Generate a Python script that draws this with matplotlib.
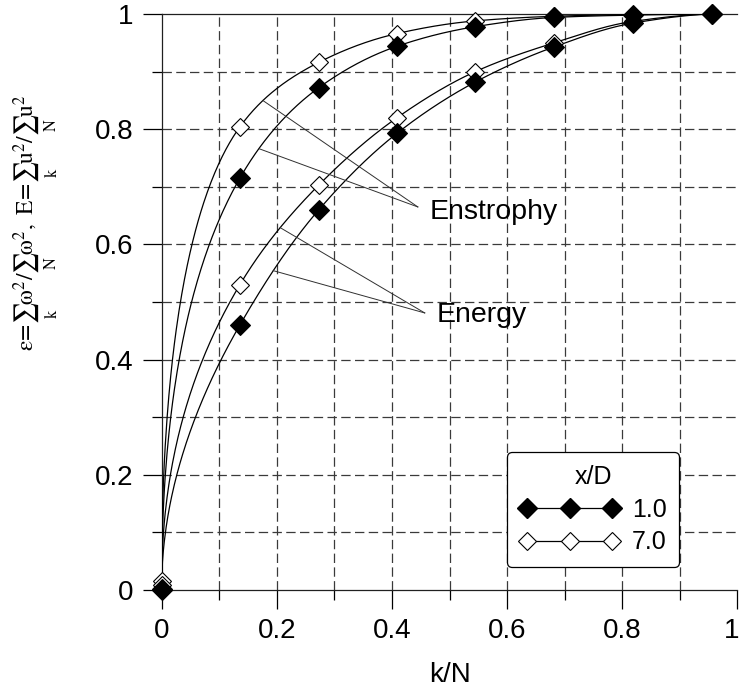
import numpy as np
import matplotlib
matplotlib.use("Agg")
import matplotlib.pyplot as plt
import matplotlib.transforms as mtransforms
from matplotlib.ticker import MultipleLocator, FixedLocator

plt.rcParams["font.family"] = ["Liberation Sans", "DejaVu Sans"]
plt.rcParams["mathtext.fontset"] = "stix"

# Cumulative fraction of enstrophy / energy contained in the first k of N modes
k_over_n = [0.0, 0.136, 0.273, 0.409, 0.545, 0.682, 0.818, 0.955]
enstrophy_xd1 = [0.002, 0.715, 0.872, 0.944, 0.978, 0.994, 0.998, 1.0]
enstrophy_xd7 = [0.015, 0.804, 0.916, 0.966, 0.988, 0.996, 0.999, 1.0]
energy_xd1 = [0.0, 0.460, 0.660, 0.793, 0.882, 0.943, 0.984, 1.0]
energy_xd7 = [0.008, 0.530, 0.703, 0.820, 0.900, 0.950, 0.987, 1.0]

legend_title = "x/D"
legend_labels = ["1.0", "7.0"]
tick_values = [0, 0.2, 0.4, 0.6, 0.8, 1]
tick_labels = ["0", "0.2", "0.4", "0.6", "0.8", "1"]


def pchip(x, y, xq):
    """Monotone piecewise-cubic Hermite interpolation (Fritsch-Carlson)."""
    x = np.asarray(x, float)
    y = np.asarray(y, float)
    h = np.diff(x)
    delta = np.diff(y) / h
    n = len(x)
    d = np.zeros(n)
    for i in range(1, n - 1):
        if delta[i - 1] * delta[i] > 0:
            w1 = 2 * h[i] + h[i - 1]
            w2 = h[i] + 2 * h[i - 1]
            d[i] = (w1 + w2) / (w1 / delta[i - 1] + w2 / delta[i])

    def end_slope(h0, h1, d0, d1):
        s = ((2 * h0 + h1) * d0 - h0 * d1) / (h0 + h1)
        if np.sign(s) != np.sign(d0):
            s = 0.0
        elif np.sign(d0) != np.sign(d1) and abs(s) > abs(3 * d0):
            s = 3 * d0
        return s

    d[0] = end_slope(h[0], h[1], delta[0], delta[1])
    d[-1] = end_slope(h[-1], h[-2], delta[-1], delta[-2])
    xq = np.asarray(xq, float)
    idx = np.clip(np.searchsorted(x, xq) - 1, 0, n - 2)
    t = (xq - x[idx]) / h[idx]
    h00 = 2 * t**3 - 3 * t**2 + 1
    h10 = t**3 - 2 * t**2 + t
    h01 = -2 * t**3 + 3 * t**2
    h11 = t**3 - t**2
    return (h00 * y[idx] + h10 * h[idx] * d[idx]
            + h01 * y[idx + 1] + h11 * h[idx] * d[idx + 1])


def smooth_curve(xs, ys, xq):
    # interpolate in sqrt(k/N) so the steep rise near the origin stays smooth
    return pchip(np.sqrt(xs), ys, np.sqrt(xq))


fig = plt.figure(figsize=(7.42, 6.88), dpi=100)
ax = fig.add_axes([0.2177, 0.1424, 0.7762, 0.8373])
ax.set_xlim(0, 1)
ax.set_ylim(0, 1)

grid_kw = dict(color="#3a3a3a", lw=0.9, dashes=(7.5, 3.5), zorder=1)
for v in np.arange(1, 10) / 10:
    ax.axvline(v, **grid_kw)
    ax.axhline(v, **grid_kw)

xq = np.linspace(0, k_over_n[-1], 600)
curve_kw = dict(color="black", lw=0.9, zorder=3)
series = [enstrophy_xd7, enstrophy_xd1, energy_xd7, energy_xd1]
for ys in series:
    ax.plot(xq, smooth_curve(k_over_n, ys, xq), **curve_kw)

open_kw = dict(ls="none", marker="D", ms=9.5, mfc="white", mec="black",
               mew=0.8, zorder=4, clip_on=False)
fill_kw = dict(ls="none", marker="D", ms=10, mfc="black", mec="black",
               mew=0.8, zorder=5, clip_on=False)
ax.plot(k_over_n, enstrophy_xd7, **open_kw)
ax.plot(k_over_n, energy_xd7, **open_kw)
ax.plot(k_over_n, enstrophy_xd1, **fill_kw)
ax.plot(k_over_n, energy_xd1, **fill_kw)

# leader lines from the labels to the curves
lead_kw = dict(color="#303030", lw=0.7, zorder=3)
for ys, xc in [(enstrophy_xd7, 0.176), (enstrophy_xd1, 0.169)]:
    yc = float(smooth_curve(k_over_n, ys, np.array([xc]))[0])
    ax.plot([0.445, xc], [0.665, yc], **lead_kw)
for ys, xc in [(energy_xd7, 0.206), (energy_xd1, 0.194)]:
    yc = float(smooth_curve(k_over_n, ys, np.array([xc]))[0])
    ax.plot([0.457, xc], [0.481, yc], **lead_kw)
ax.text(0.466, 0.656, "Enstrophy", fontsize=20.5, ha="left", va="center", zorder=6)
ax.text(0.478, 0.477, "Energy", fontsize=20.5, ha="left", va="center", zorder=6)

# legend
h1, = ax.plot([], [], color="black", lw=0.9, marker="D", ms=10, mfc="black", mec="black")
h7, = ax.plot([], [], color="black", lw=0.9, marker="D", ms=9.5, mfc="white", mec="black", mew=0.8)
leg = ax.legend([h1, h7], legend_labels, title=legend_title, loc="lower left",
                bbox_to_anchor=(0.6, 0.04), borderaxespad=0, numpoints=3,
                handlelength=4.0, fontsize=18, title_fontsize=18,
                frameon=True, fancybox=True, framealpha=1, edgecolor="black",
                labelspacing=0.35, handletextpad=0.5, borderpad=0.5)
leg.get_frame().set_linewidth(0.9)
leg.set_zorder(10)

# axes styling
ax.spines["right"].set_visible(False)
for s in ["left", "bottom", "top"]:
    ax.spines[s].set_linewidth(0.9)
    ax.spines[s].set_color("#202020")
ax.xaxis.set_major_locator(FixedLocator(tick_values))
ax.yaxis.set_major_locator(FixedLocator(tick_values))
ax.set_xticklabels(tick_labels)
ax.set_yticklabels(tick_labels)
ax.xaxis.set_minor_locator(MultipleLocator(0.1))
ax.yaxis.set_minor_locator(MultipleLocator(0.1))
ax.tick_params(which="major", direction="out", length=14, width=0.9,
               labelsize=20, pad=6)
ax.tick_params(which="minor", direction="out", length=7, width=0.9)
ax.tick_params(top=False, right=False, which="both")

# nudge the last x tick label so it stays inside the figure edge
last = ax.get_xticklabels()[-1]
last.set_transform(last.get_transform()
                   + mtransforms.ScaledTranslation(-4 / 72, 0, fig.dpi_scale_trans))

ax.set_xlabel("k/N", fontsize=20, labelpad=13)
fig.text(36 / 742, 1 - 223 / 688,
         r"$\mathrm{\varepsilon}\!=\!\sum_{\mathrm{k}}\mathrm{\omega}^2/\sum_{\mathrm{N}}\mathrm{\omega}^2"
         r"\mathrm{,\ E}\!=\!\sum_{\mathrm{k}}\mathrm{u}^2/\sum_{\mathrm{N}}\mathrm{u}^2$",
         rotation=90, ha="center", va="center", fontsize=17)

fig.savefig("out.png", dpi=100)
